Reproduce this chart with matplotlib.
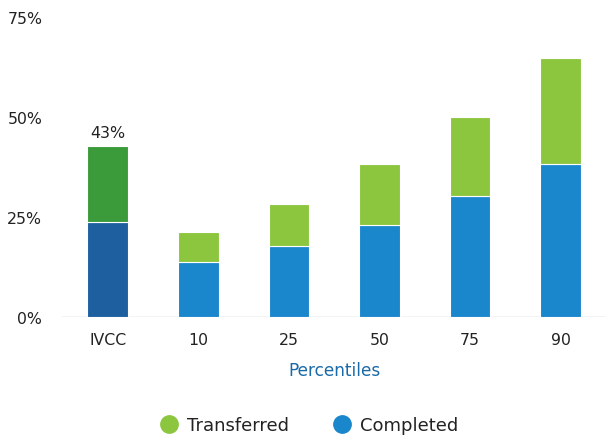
import matplotlib.pyplot as plt
from matplotlib.lines import Line2D

# values (percent)
categories = ['IVCC', '10', '25', '50', '75', '90']
completed = [23.9, 13.8, 17.9, 23.1, 30.3, 38.2]
totals = [42.7, 21.4, 28.3, 38.3, 50.1, 64.9]
transferred = [t - c for t, c in zip(totals, completed)]
yticks = [0, 25, 50, 75]
ivcc_label = '43%'

plt.rcParams['font.family'] = ['DejaVu Sans']

BLUE = '#1a86cb'
GREEN = '#8cc63f'
DARK_BLUE = '#1d5f9f'
DARK_GREEN = '#3b9a3a'
TEXT = '#222222'

fig = plt.figure(figsize=(6.06, 4.39), dpi=100)
ax = fig.add_axes([0.103, 0.2756, 0.897, 0.6824])

x = list(range(len(categories)))
blue_cols = [DARK_BLUE] + [BLUE] * (len(categories) - 1)
green_cols = [DARK_GREEN] + [GREEN] * (len(categories) - 1)

ax.bar(x, completed, width=0.45, color=blue_cols, edgecolor='white', linewidth=0.8, zorder=3)
ax.bar(x, transferred, bottom=completed, width=0.45, color=green_cols,
       edgecolor='white', linewidth=0.8, zorder=3)
ax.text(x[0], totals[0] + 1.6, ivcc_label, ha='center', va='bottom', fontsize=11.4, color=TEXT)

ax.axhline(0, color='#c3c8d2', lw=1, zorder=2)
ax.set_xlim(-0.5, len(categories) - 0.5)
ax.set_ylim(0, 75)
ax.set_yticks(yticks)
ax.set_yticklabels(['{}%'.format(v) for v in yticks])
ax.set_xticks(x)
ax.set_xticklabels(categories)
ax.tick_params(length=0, labelsize=11.3, colors=TEXT)
ax.tick_params(axis='y', pad=14.5)
ax.tick_params(axis='x', pad=11)
for side in ax.spines.values():
    side.set_visible(False)
ax.set_xlabel('Percentiles', color='#1a6aa8', fontsize=12.2, labelpad=10)

handles = [Line2D([], [], marker='o', ls='', markersize=12.5, color=GREEN, label='Transferred'),
           Line2D([], [], marker='o', ls='', markersize=12.5, color=BLUE, label='Completed')]
fig.legend(handles=handles, loc='center', bbox_to_anchor=(0.51, 0.03), ncol=2, frameon=False,
           fontsize=13, handlelength=1.0, handletextpad=0.5, columnspacing=2.45, labelcolor=TEXT)

fig.savefig('out.png', dpi=100)
